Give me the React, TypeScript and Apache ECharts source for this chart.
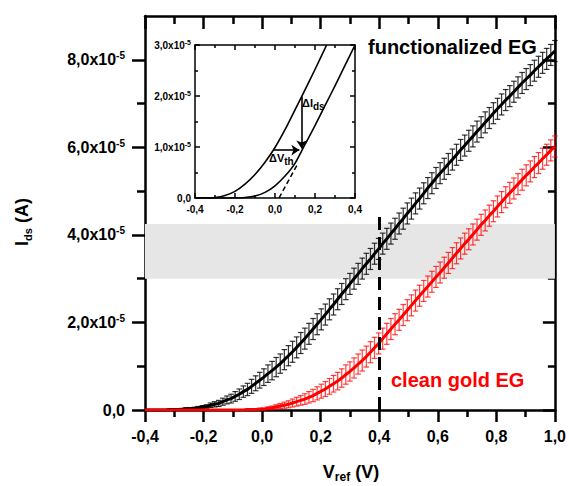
import React, { useEffect, useRef } from 'react';
import * as echarts from 'echarts';

const FONT = '"Liberation Sans", Arial, sans-serif';

// Gate-voltage sweep grid (V)
const V_START = -0.4;
const V_STEP = 0.014;

// Drain current, functionalized EG (units of 1e-5 A)
const I_FUNC = [
  0.00, 0.00, 0.00, 0.00, 0.00, 0.00, 0.01, 0.01, 0.01, 0.02,
  0.03, 0.03, 0.04, 0.05, 0.07, 0.08, 0.11, 0.13, 0.15, 0.19,
  0.23, 0.26, 0.31, 0.36, 0.42, 0.47, 0.54, 0.61, 0.68, 0.75,
  0.83, 0.90, 0.98, 1.06, 1.15, 1.24, 1.33, 1.43, 1.53, 1.63,
  1.74, 1.85, 1.96, 2.07, 2.18, 2.30, 2.41, 2.53, 2.65, 2.76,
  2.88, 3.00, 3.11, 3.23, 3.34, 3.45, 3.57, 3.68, 3.80, 3.91,
  4.03, 4.14, 4.26, 4.37, 4.49, 4.60, 4.72, 4.83, 4.95, 5.07,
  5.18, 5.30, 5.41, 5.51, 5.62, 5.72, 5.83, 5.94, 6.04, 6.15,
  6.25, 6.36, 6.46, 6.57, 6.67, 6.78, 6.88, 6.98, 7.08, 7.17,
  7.27, 7.37, 7.47, 7.56, 7.65, 7.75, 7.84, 7.93, 8.02, 8.11,
  8.20,
];
const I_FUNC_ERR = [
  0.00, 0.00, 0.00, 0.00, 0.00, 0.00, 0.01, 0.01, 0.01, 0.01,
  0.02, 0.02, 0.02, 0.03, 0.03, 0.04, 0.05, 0.06, 0.07, 0.08,
  0.09, 0.10, 0.11, 0.12, 0.13, 0.14, 0.16, 0.17, 0.18, 0.19,
  0.20, 0.21, 0.22, 0.22, 0.23, 0.23, 0.24, 0.24, 0.24, 0.24,
  0.24, 0.24, 0.24, 0.24, 0.24, 0.24, 0.24, 0.24, 0.24, 0.24,
  0.24, 0.24, 0.24, 0.24, 0.24, 0.24, 0.24, 0.24, 0.24, 0.24,
  0.24, 0.24, 0.24, 0.24, 0.24, 0.24, 0.24, 0.24, 0.24, 0.24,
  0.24, 0.24, 0.24, 0.24, 0.24, 0.24, 0.24, 0.24, 0.24, 0.24,
  0.24, 0.24, 0.24, 0.24, 0.24, 0.24, 0.24, 0.24, 0.24, 0.24,
  0.24, 0.24, 0.24, 0.24, 0.24, 0.24, 0.24, 0.24, 0.24, 0.24,
  0.24,
];

// Drain current, clean gold EG (units of 1e-5 A)
const I_CLEAN = [
  0.00, 0.00, 0.00, 0.00, 0.00, 0.00, 0.00, 0.00, 0.00, 0.00,
  0.00, 0.00, 0.00, 0.00, 0.00, 0.00, 0.00, 0.00, 0.00, 0.00,
  0.00, 0.00, 0.00, 0.00, 0.00, 0.01, 0.01, 0.01, 0.02, 0.02,
  0.04, 0.05, 0.07, 0.09, 0.11, 0.13, 0.16, 0.19, 0.22, 0.25,
  0.29, 0.33, 0.38, 0.43, 0.48, 0.54, 0.60, 0.66, 0.73, 0.81,
  0.88, 0.96, 1.05, 1.13, 1.22, 1.32, 1.42, 1.52, 1.63, 1.74,
  1.85, 1.96, 2.06, 2.17, 2.28, 2.39, 2.50, 2.61, 2.72, 2.82,
  2.93, 3.04, 3.14, 3.25, 3.36, 3.47, 3.58, 3.69, 3.80, 3.90,
  4.01, 4.12, 4.23, 4.33, 4.44, 4.54, 4.65, 4.75, 4.86, 4.96,
  5.06, 5.16, 5.26, 5.36, 5.45, 5.55, 5.64, 5.74, 5.83, 5.93,
  6.02,
];
const I_CLEAN_ERR = [
  0.00, 0.00, 0.00, 0.00, 0.00, 0.00, 0.00, 0.00, 0.00, 0.00,
  0.00, 0.00, 0.00, 0.00, 0.00, 0.00, 0.00, 0.00, 0.00, 0.00,
  0.00, 0.00, 0.00, 0.00, 0.00, 0.01, 0.01, 0.01, 0.02, 0.02,
  0.03, 0.04, 0.05, 0.06, 0.07, 0.08, 0.09, 0.10, 0.11, 0.12,
  0.13, 0.14, 0.15, 0.16, 0.17, 0.18, 0.19, 0.20, 0.21, 0.22,
  0.22, 0.23, 0.23, 0.24, 0.24, 0.24, 0.24, 0.24, 0.24, 0.24,
  0.24, 0.24, 0.24, 0.24, 0.24, 0.24, 0.24, 0.24, 0.24, 0.24,
  0.24, 0.24, 0.24, 0.24, 0.24, 0.24, 0.24, 0.24, 0.24, 0.24,
  0.24, 0.24, 0.24, 0.24, 0.24, 0.24, 0.24, 0.24, 0.24, 0.24,
  0.24, 0.24, 0.24, 0.24, 0.24, 0.24, 0.24, 0.24, 0.24, 0.24,
  0.24,
];

const Y_TICKS = [0, 2, 4, 6, 8];
const Y_MINOR = [1, 3, 5, 7];
const BAND = [3.0, 4.25];
const VREF_LINE_X = 0.4;
const VREF_LINE_TOP = 4.5;

// Inset (schematic)
const INSET_A_X = [-0.4, -0.35, -0.3, -0.25, -0.2, -0.15, -0.1, -0.05, 0.0, 0.05, 0.1, 0.15, 0.2, 0.258];
const INSET_A_Y = [0.0, 0.0, 0.01, 0.05, 0.13, 0.27, 0.46, 0.7, 0.99, 1.34, 1.73, 2.12, 2.52, 3.0];
const INSET_B_X = [-0.4, -0.2, -0.15, -0.1, -0.05, 0.0, 0.05, 0.1, 0.15, 0.2, 0.25, 0.3, 0.35, 0.4];
const INSET_B_Y = [0.0, 0.0, 0.01, 0.04, 0.11, 0.24, 0.43, 0.68, 1.05, 1.42, 1.81, 2.2, 2.6, 3.0];
const INSET_TANGENT = [[0.02, 0.0], [0.115, 0.68]];
const ARROW_IDS = [[0.133, 1.99], [0.133, 0.97]];
const ARROW_VTH = [[-0.008, 0.94], [0.122, 0.94]];

const X = I_FUNC.map((_, i) => +(V_START + i * V_STEP).toFixed(3));

const commaFmt = (v: number) => (Math.round(v * 10) / 10).toFixed(1).replace('.', ',');

function errorBars(values: number[], errs: number[], color: string, capHalf: number) {
  return {
    type: 'custom',
    xAxisIndex: 0,
    yAxisIndex: 0,
    z: 2,
    silent: true,
    data: values.map((v, i) => [X[i], v, errs[i]]),
    encode: { x: 0, y: 1 },
    renderItem: (params: any, api: any) => {
      const x = api.value(0);
      const y = api.value(1);
      const e = api.value(2);
      if (e <= 0) return null;
      const top = api.coord([x, y + e]);
      const bot = api.coord([x, Math.max(0, y - e)]);
      const style = { stroke: color, lineWidth: 1.2 };
      return {
        type: 'group',
        children: [
          { type: 'line', shape: { x1: top[0], y1: top[1], x2: bot[0], y2: bot[1] }, style },
          { type: 'line', shape: { x1: top[0] - capHalf, y1: top[1], x2: top[0] + capHalf, y2: top[1] }, style },
          { type: 'line', shape: { x1: bot[0] - capHalf, y1: bot[1], x2: bot[0] + capHalf, y2: bot[1] }, style },
        ],
      };
    },
  };
}

export default function App() {
  const ref = useRef<HTMLDivElement>(null);
  useEffect(() => {
    document.body.style.margin = '0';
    const chart = echarts.init(ref.current!, undefined, { renderer: 'svg' });
    const axisLineStyle = { color: '#000', width: 2.5 };
    const tickStyle = { color: '#000', width: 2.5 };
    const insetLine = { color: '#000', width: 1.5 };
    const supLabel = (v: number) =>
      v === 0 ? '{a|0,0}' : `{a|${commaFmt(v)}x10}{b|-5}`;
    const mainRich = {
      a: { fontFamily: FONT, fontWeight: 'bold', fontSize: 16, color: '#000', lineHeight: 18 },
      b: { fontFamily: FONT, fontWeight: 'bold', fontSize: 10, color: '#000', verticalAlign: 'top', lineHeight: 18 },
    };
    const insetRich = {
      a: { fontFamily: FONT, fontWeight: 'bold', fontSize: 10, color: '#000', lineHeight: 12 },
      b: { fontFamily: FONT, fontWeight: 'bold', fontSize: 7, color: '#000', verticalAlign: 'top', lineHeight: 12 },
    };
    const hidden = { show: false };

    const option: any = {
      animation: false,
      backgroundColor: '#fff',
      grid: [
        { left: 145, right: 12, top: 16, bottom: 76 },
        { left: 195, top: 45, width: 160, height: 153, show: true, backgroundColor: '#fff', borderWidth: 0 },
      ],
      xAxis: [
        {
          gridIndex: 0, type: 'value', position: 'bottom', min: -0.4, max: 1.0, interval: 0.2,
          axisLine: { onZero: false, lineStyle: axisLineStyle },
          axisTick: { show: true, inside: false, length: 12, lineStyle: tickStyle },
          minorTick: { show: true, splitNumber: 2, length: 7, lineStyle: tickStyle },
          splitLine: hidden,
          axisLabel: {
            formatter: commaFmt, margin: 18, color: '#000',
            fontFamily: FONT, fontWeight: 'bold', fontSize: 16,
          },
        },
        {
          gridIndex: 0, type: 'value', position: 'top', min: -0.4, max: 1.0, interval: 0.2,
          axisLine: { onZero: false, lineStyle: axisLineStyle },
          axisTick: { show: true, inside: true, length: 13, lineStyle: tickStyle },
          minorTick: { show: true, splitNumber: 2, length: 8, lineStyle: tickStyle },
          splitLine: hidden, axisLabel: hidden,
        },
        {
          gridIndex: 1, type: 'value', position: 'bottom', min: -0.4, max: 0.4, interval: 0.2,
          axisLine: { onZero: false, lineStyle: insetLine },
          axisTick: { show: true, inside: true, length: 5, lineStyle: insetLine },
          minorTick: { show: true, splitNumber: 2, length: 3, lineStyle: insetLine },
          splitLine: hidden,
          axisLabel: {
            formatter: commaFmt, margin: 6, color: '#000',
            fontFamily: FONT, fontWeight: 'bold', fontSize: 10,
          },
        },
        {
          gridIndex: 1, type: 'value', position: 'top', min: -0.4, max: 0.4, interval: 0.2,
          axisLine: { onZero: false, lineStyle: insetLine },
          axisTick: { show: true, inside: true, length: 5, lineStyle: insetLine },
          minorTick: { show: true, splitNumber: 2, length: 3, lineStyle: insetLine },
          splitLine: hidden, axisLabel: hidden,
        },
      ],
      yAxis: [
        {
          gridIndex: 0, type: 'value', position: 'left', min: 0, max: 9,
          axisLine: { onZero: false, lineStyle: axisLineStyle },
          axisTick: { show: true, inside: false, length: 13, lineStyle: tickStyle, customValues: Y_TICKS },
          splitLine: hidden,
          axisLabel: {
            customValues: Y_TICKS, formatter: supLabel, margin: 20, rich: mainRich,
          },
        },
        {
          gridIndex: 0, type: 'value', position: 'left', min: 0, max: 9,
          axisLine: { show: false, onZero: false },
          axisTick: { show: true, inside: false, length: 8, lineStyle: tickStyle, customValues: Y_MINOR },
          splitLine: hidden, axisLabel: hidden,
        },
        {
          gridIndex: 0, type: 'value', position: 'right', min: 0, max: 9,
          axisLine: { onZero: false, lineStyle: axisLineStyle },
          axisTick: { show: true, inside: true, length: 12, lineStyle: tickStyle, customValues: Y_TICKS },
          splitLine: hidden, axisLabel: hidden,
        },
        {
          gridIndex: 0, type: 'value', position: 'right', min: 0, max: 9,
          axisLine: { show: false, onZero: false },
          axisTick: { show: true, inside: true, length: 7, lineStyle: tickStyle, customValues: Y_MINOR },
          splitLine: hidden, axisLabel: hidden,
        },
        {
          gridIndex: 1, type: 'value', position: 'left', min: 0, max: 3, interval: 1,
          axisLine: { onZero: false, lineStyle: insetLine },
          axisTick: { show: true, inside: true, length: 5, lineStyle: insetLine },
          minorTick: { show: true, splitNumber: 2, length: 3, lineStyle: insetLine },
          splitLine: hidden,
          axisLabel: { formatter: supLabel, margin: 4, rich: insetRich },
        },
        {
          gridIndex: 1, type: 'value', position: 'right', min: 0, max: 3, interval: 1,
          axisLine: { onZero: false, lineStyle: insetLine },
          axisTick: { show: true, inside: true, length: 5, lineStyle: insetLine },
          minorTick: { show: true, splitNumber: 2, length: 3, lineStyle: insetLine },
          splitLine: hidden, axisLabel: hidden,
        },
      ],
      series: [
        {
          type: 'line', xAxisIndex: 0, yAxisIndex: 0, z: 1, silent: true,
          data: [[V_START, 0]], symbol: 'none', lineStyle: { opacity: 0 },
          markArea: {
            silent: true,
            itemStyle: { color: '#e6e6e6' },
            data: [[{ xAxis: -0.4, yAxis: BAND[0] }, { xAxis: 1.0, yAxis: BAND[1] }]],
          },
        },
        errorBars(I_FUNC, I_FUNC_ERR, 'rgba(0,0,0,0.8)', 2.8),
        {
          type: 'line', xAxisIndex: 0, yAxisIndex: 0, z: 3, silent: true,
          data: I_FUNC.map((v, i) => [X[i], v]),
          symbol: 'none', lineStyle: { color: '#000', width: 3 },
        },
        errorBars(I_CLEAN, I_CLEAN_ERR, 'rgba(255,0,0,0.75)', 2.8),
        {
          type: 'line', xAxisIndex: 0, yAxisIndex: 0, z: 3, silent: true,
          data: I_CLEAN.map((v, i) => [X[i], v]),
          symbol: 'none', lineStyle: { color: '#ff0000', width: 3 },
          markLine: {
            silent: true, symbol: 'none', label: { show: false },
            lineStyle: { color: '#000', width: 3, type: [13, 7] },
            data: [[{ coord: [VREF_LINE_X, 0] }, { coord: [VREF_LINE_X, VREF_LINE_TOP] }]],
          },
        },
        {
          type: 'line', xAxisIndex: 2, yAxisIndex: 4, z: 3, silent: true, smooth: 0.3,
          data: INSET_A_X.map((x, i) => [x, INSET_A_Y[i]]),
          symbol: 'none', lineStyle: { color: '#000', width: 1.6 },
          markLine: {
            silent: true, symbol: ['none', 'arrow'], symbolSize: 8, label: { show: false },
            lineStyle: { color: '#000', width: 1.6, type: 'solid' },
            data: [
              [{ coord: ARROW_IDS[0] }, { coord: ARROW_IDS[1] }],
              [{ coord: ARROW_VTH[0] }, { coord: ARROW_VTH[1] }],
            ],
          },
        },
        {
          type: 'line', xAxisIndex: 2, yAxisIndex: 4, z: 3, silent: true, smooth: 0.3,
          data: INSET_B_X.map((x, i) => [x, INSET_B_Y[i]]),
          symbol: 'none', lineStyle: { color: '#000', width: 1.6 },
        },
        {
          type: 'line', xAxisIndex: 2, yAxisIndex: 4, z: 3, silent: true,
          data: INSET_TANGENT,
          symbol: 'none', lineStyle: { color: '#000', width: 1.5, type: [5, 3] },
        },
      ],
      graphic: [
        {
          type: 'text', x: 368, y: 47, z: 10,
          style: {
            text: 'functionalized EG', fill: '#000', fontFamily: FONT, fontWeight: 'bold',
            fontSize: 20, align: 'left', verticalAlign: 'middle',
          },
        },
        {
          type: 'text', x: 391, y: 380, z: 10,
          style: {
            text: 'clean gold EG', fill: '#ff0000', fontFamily: FONT, fontWeight: 'bold',
            fontSize: 20, align: 'left', verticalAlign: 'middle',
          },
        },
        {
          type: 'text', x: 351, y: 472, z: 10,
          style: {
            text: '{a|V}{b|ref}{a| (V)}', align: 'center', verticalAlign: 'middle',
            rich: {
              a: { fontFamily: FONT, fontWeight: 'bold', fontSize: 18, fill: '#000', lineHeight: 22 },
              b: { fontFamily: FONT, fontWeight: 'bold', fontSize: 12, fill: '#000', verticalAlign: 'bottom', lineHeight: 22 },
            },
          },
        },
        {
          type: 'text', x: 22, y: 222, rotation: Math.PI / 2, z: 10,
          style: {
            text: '{a|I}{b|ds}{a| (A)}', align: 'center', verticalAlign: 'middle',
            rich: {
              a: { fontFamily: FONT, fontWeight: 'bold', fontSize: 18, fill: '#000', lineHeight: 22 },
              b: { fontFamily: FONT, fontWeight: 'bold', fontSize: 11, fill: '#000', verticalAlign: 'bottom', lineHeight: 22 },
            },
          },
        },
        {
          type: 'text', x: 302, y: 103, z: 10,
          style: {
            text: '{a|ΔI}{b|ds}', align: 'left', verticalAlign: 'middle',
            rich: {
              a: { fontFamily: FONT, fontWeight: 'bold', fontSize: 11, fill: '#000', lineHeight: 14 },
              b: { fontFamily: FONT, fontWeight: 'bold', fontSize: 10, fill: '#000', verticalAlign: 'bottom', lineHeight: 16 },
            },
          },
        },
        {
          type: 'text', x: 269, y: 158, z: 10,
          style: {
            text: '{a|ΔV}{b|th}', align: 'left', verticalAlign: 'middle',
            rich: {
              a: { fontFamily: FONT, fontWeight: 'bold', fontSize: 11, fill: '#000', lineHeight: 14 },
              b: { fontFamily: FONT, fontWeight: 'bold', fontSize: 10, fill: '#000', verticalAlign: 'bottom', lineHeight: 16 },
            },
          },
        },
      ],
    };
    chart.setOption(option);
    return () => chart.dispose();
  }, []);
  return <div ref={ref} style={{ width: 569, height: 486 }} />;
}
